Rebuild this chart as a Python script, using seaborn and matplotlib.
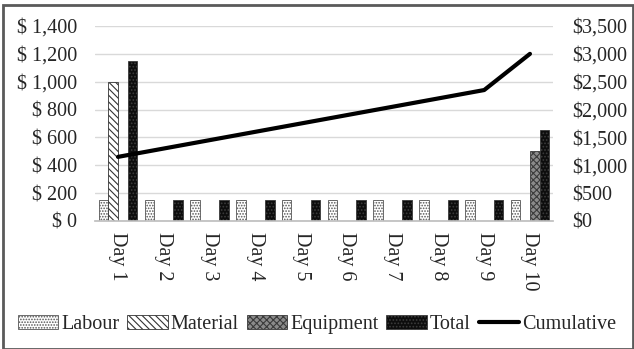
import numpy as np
import pandas as pd
import matplotlib
matplotlib.use("Agg")
import matplotlib.pyplot as plt
import seaborn as sns
from matplotlib.patches import Patch, Rectangle
from matplotlib.lines import Line2D

days = ["Day 1", "Day 2", "Day 3", "Day 4", "Day 5", "Day 6", "Day 7", "Day 8", "Day 9", "Day 10"]
labour = [150, 150, 150, 150, 150, 150, 150, 150, 150, 150]
material = [1000, 0, 0, 0, 0, 0, 0, 0, 0, 0]
equipment = [0, 0, 0, 0, 0, 0, 0, 0, 0, 500]
total = [1150, 150, 150, 150, 150, 150, 150, 150, 150, 650]
cumulative = [1150, 1300, 1450, 1600, 1750, 1900, 2050, 2200, 2350, 3000]
series_names = ["Labour", "Material", "Equipment", "Total"]
left_ticks = [0, 200, 400, 600, 800, 1000, 1200, 1400]
right_ticks = [0, 500, 1000, 1500, 2000, 2500, 3000, 3500]

sns.set_theme(style="white")
plt.rcParams["font.family"] = ["Liberation Serif", "DejaVu Serif"]
plt.rcParams["hatch.linewidth"] = 0.8

FS = 14.5

df = pd.DataFrame({
    "Day": days * 4,
    "Series": [s for s in series_names for _ in days],
    "Value": labour + material + equipment + total,
})

fig = plt.figure(figsize=(6.34, 3.49), dpi=100)
ax = fig.add_axes([0.150, 0.367, 0.722, 0.5585])

sns.barplot(data=df, x="Day", y="Value", hue="Series", hue_order=series_names,
            width=0.84, ax=ax, legend=False, saturation=1)

styles = {
    "Labour": dict(facecolor="white", edgecolor="#555555", hatch="......"),
    "Material": dict(facecolor="white", edgecolor="#333333", hatch="\\\\\\\\\\"),
    "Equipment": dict(facecolor="#8a8a8a", edgecolor="#3a3a3a", hatch="xxxxx"),
    "Total": dict(facecolor="#0d0d0d", edgecolor="#3c3c3c", hatch="....."),
}
for cont, name in zip(ax.containers, series_names):
    st = styles[name]
    for p in cont:
        p.set_facecolor(st["facecolor"])
        p.set_edgecolor(st["edgecolor"])
        p.set_hatch(st["hatch"])
        p.set_linewidth(0.6)

ax.set_ylim(0, 1400)
ax.set_yticks(left_ticks, [f"$ {v:,}" for v in left_ticks])
ax.set_xlim(-0.5, len(days) - 0.5)
ax.set_xlabel("")
ax.set_ylabel("")
ax.yaxis.grid(True, color="#d9d9d9", linewidth=1)
ax.set_axisbelow(True)
for s in ["left", "right", "top"]:
    ax.spines[s].set_visible(False)
ax.spines["bottom"].set_color("#bfbfbf")
ax.tick_params(axis="y", length=0, pad=13, labelsize=FS)
ax.tick_params(axis="x", length=0, pad=8, labelsize=FS)

ax2 = ax.twinx()
sns.lineplot(x=np.arange(len(days)), y=cumulative, ax=ax2, color="black",
             linewidth=3, legend=False)
ax2.set_ylim(0, 3500)
ax2.set_yticks(right_ticks, [f"${v:,}" for v in right_ticks])
ax2.set_ylabel("")
for s in ax2.spines.values():
    s.set_visible(False)
ax2.tick_params(axis="y", length=0, pad=14, labelsize=FS)
ax2.grid(False)

ax.set_xlim(-0.5, len(days) - 0.5)
ax.set_xticks(range(len(days)), days, rotation=270)

handles = [Patch(facecolor=styles[n]["facecolor"], edgecolor=styles[n]["edgecolor"],
                 hatch=styles[n]["hatch"], linewidth=0.6) for n in series_names]
handles.append(Line2D([0], [0], color="black", linewidth=3))
fig.legend(handles, series_names + ["Cumulative"], loc="center",
           bbox_to_anchor=(0.5, 0.069), ncol=5, frameon=False, fontsize=FS,
           handlelength=2.0, handleheight=0.7, handletextpad=0.15, columnspacing=0.4)

fig.patches.append(Rectangle((0.004, 0.0), 0.994, 0.985, transform=fig.transFigure,
                             fill=False, edgecolor="#5a5a5a", linewidth=2))

fig.savefig("out.png", dpi=100)
